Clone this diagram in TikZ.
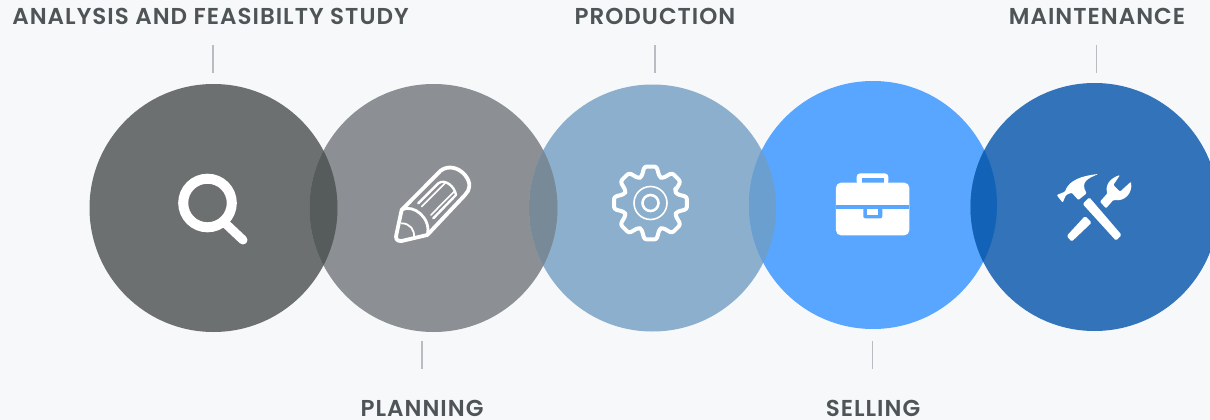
\documentclass[tikz,border=0pt]{standalone}
\usepackage{fontspec}
\setmainfont{Poppins}[BoldFont={Poppins SemiBold},BoldFeatures={LetterSpace=4.4}]
\definecolor{bgc}{HTML}{F7F8FA}
\definecolor{ca}{HTML}{6D7070}
\definecolor{cb}{HTML}{8C8F93}
\definecolor{cc}{HTML}{8BAFCD}
\definecolor{cd}{HTML}{58A6FF}
\definecolor{ce}{HTML}{3273B9}
\definecolor{ab}{HTML}{565B5C}
\definecolor{bc}{HTML}{788A98}
\definecolor{cdl}{HTML}{6A9FCF}
\definecolor{de}{HTML}{1263B8}
\definecolor{txt}{HTML}{4F5456}
\definecolor{tick}{HTML}{B9BDC3}
\tikzset{
  disc/.style={circle,minimum size=2*#1,inner sep=0pt,outer sep=0pt},
  lab/.style={font=\fontsize{23}{25}\selectfont\bfseries,text=txt,inner sep=0pt,anchor=center},
  tickline/.style={draw=tick,line width=1.8pt},
  iconline/.style={draw=white,fill=none,line join=round,line cap=round},
}
\begin{document}
\begin{tikzpicture}[x=1pt,y=-1pt]
\useasboundingbox (0,0) rectangle (1210,420);
\fill[bgc] (0,0) rectangle (1210,420);
% circles
\node[disc=124pt,fill=ca] (c1) at (213.5,208) {};
\node[disc=124pt,fill=cb] (c2) at (433.5,208) {};
\node[disc=123.5pt,fill=cc] (c3) at (652.5,208) {};
\node[disc=124pt,fill=cd] (c4) at (873,205) {};
\node[disc=124pt,fill=ce] (c5) at (1094.5,207) {};
% overlaps
\begin{scope}
  \clip (213.5,208) circle (124);
  \fill[ab] (433.5,208) circle (124);
\end{scope}
\begin{scope}
  \clip (433.5,208) circle (124);
  \fill[bc] (652.5,208) circle (123.5);
\end{scope}
\begin{scope}
  \clip (652.5,208) circle (123.5);
  \fill[cdl] (873,205) circle (124);
\end{scope}
\begin{scope}
  \clip (873,205) circle (124);
  \fill[de] (1094.5,207) circle (124);
\end{scope}
% labels
\node[lab] (l1) at (210.5,16.5) {ANALYSIS AND FEASIBILTY STUDY};
\node[lab] (l2) at (422,408.5) {PLANNING};
\node[lab] (l3) at (655,16.5) {PRODUCTION};
\node[lab] (l4) at (873,408.5) {SELLING};
\node[lab] (l5) at (1097,16.5) {MAINTENANCE};
% ticks
\coordinate (t1a) at (213,45); \coordinate (t1b) at (213,73);
\coordinate (t2a) at (422,341); \coordinate (t2b) at (422,369);
\coordinate (t3a) at (655,45); \coordinate (t3b) at (655,73);
\coordinate (t4a) at (872.5,341); \coordinate (t4b) at (872.5,369);
\coordinate (t5a) at (1096.5,45); \coordinate (t5b) at (1096.5,73);
\draw[tickline] (t1a) -- (t1b);
\draw[tickline] (t2a) -- (t2b);
\draw[tickline] (t3a) -- (t3b);
\draw[tickline] (t4a) -- (t4b);
\draw[tickline] (t5a) -- (t5b);
% magnifier
\draw[iconline,line width=10pt] (207.5,203) circle (24.3);
\draw[iconline,line width=9pt] (226,224) -- (243,240);
% pencil
\begin{scope}[shift={(150,140)},x=0.3333pt,y=-0.3333pt]
  \draw[iconline,line width=3.8pt]
    (755,210) -- (872,92) .. controls (895,75) and (925,82) .. (945,105)
    .. controls (965,130) and (960,150) .. (945,165) -- (832,285)
    -- (755,303) .. controls (740,305) and (735,295) .. (740,280) -- cycle;
  \draw[iconline,line width=2.8pt] (755,210) .. controls (790,190) and (845,235) .. (832,285);
  \draw[iconline,line width=2.4pt] (805,190) -- (865,130) .. controls (885,115) and (915,140) .. (918,165) -- (850,235);
  \draw[iconline,line width=1.6pt] (815,200) -- (885,130);
  \draw[iconline,line width=1.6pt] (843,225) -- (912,155);
  \draw[iconline,line width=1.8pt] (755,250) .. controls (780,250) and (795,270) .. (792,293);
\end{scope}
% gear
\begin{scope}[shift={(650.5,203)}]
  \draw[iconline,line width=4pt,rounded corners=2.5pt]
    (-26:27.5) foreach \a in {0,45,...,315} { -- (\a-19:27.5) -- (\a-9.5:37) -- (\a+9.5:37) -- (\a+19:27.5) } -- cycle;
  \draw[iconline,line width=1.6pt] (0,0) circle (16.5);
  \draw[iconline,line width=2.6pt] (0,0) circle (8);
\end{scope}
% briefcase
\begin{scope}[shift={(590,140)},x=0.3333pt,y=-0.3333pt]
  \fill[white,rounded corners=3.5pt] (800,135) -- (800,100) -- (895,100) -- (895,135) -- cycle;
  \fill[cd] (815,113) rectangle (882,135);
  \fill[white,rounded corners=5pt] (738,128) rectangle (958,286);
  \fill[cd] (738,196) rectangle (958,208);
  \fill[cd,rounded corners=2pt] (820,200) rectangle (877,235);
  \fill[white] (832,208) rectangle (865,224);
\end{scope}
% tools
\begin{scope}[shift={(1030,150)},x=0.3333pt,y=-0.3333pt]
  \fill[white,rounded corners=1.5pt] (158,162) -- (178,142) -- (275,255) -- (258,272) -- cycle;
  \fill[white,rounded corners=1pt] (80,135) -- (105,125) .. controls (112,105) and (130,80) .. (205,72)
    .. controls (175,85) and (150,95) .. (170,130) -- (145,150) -- (125,128) -- (108,135) -- (98,158) -- cycle;
  \fill[white,rounded corners=1.5pt] (110,258) -- (165,198) -- (185,218) -- (125,275) -- cycle;
  \fill[white,rounded corners=1pt] (210,155) -- (232,130) .. controls (225,105) and (240,85) .. (270,75)
    -- (250,105) -- (270,125) -- (303,95) .. controls (308,130) and (285,155) .. (250,150) -- (228,175) -- cycle;
\end{scope}
\end{tikzpicture}
\end{document}
